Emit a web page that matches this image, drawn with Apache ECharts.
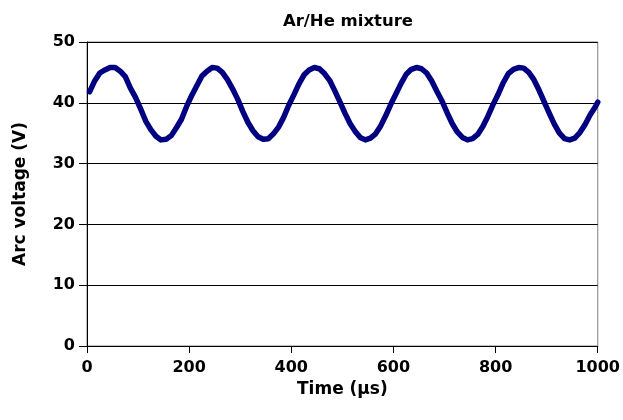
<!DOCTYPE html>
<html>
<head>
<meta charset="utf-8">
<script src="https://cdn.jsdelivr.net/npm/echarts@6/dist/echarts.min.js"></script>
<style>
html,body{margin:0;padding:0;background:#fff;}
#chart{width:623px;height:420px;}
</style>
</head>
<body>
<div id="chart"></div>
<script>
var titleText = 'Ar/He mixture';
var xName = 'Time (\u00b5s)';
var yName = 'Arc voltage (V)';
var xTicks = [0, 200, 400, 600, 800, 1000];
var yTicks = [0, 10, 20, 30, 40, 50];

var times = [
  5, 15, 25, 35, 45, 55, 65, 75, 85, 95, 105, 115, 125, 135, 145, 155, 165, 175, 185, 195,
  205, 215, 225, 235, 245, 255, 265, 275, 285, 295, 305, 315, 325, 335, 345, 355, 365, 375, 385, 395,
  405, 415, 425, 435, 445, 455, 465, 475, 485, 495, 505, 515, 525, 535, 545, 555, 565, 575, 585, 595,
  605, 615, 625, 635, 645, 655, 665, 675, 685, 695, 705, 715, 725, 735, 745, 755, 765, 775, 785, 795,
  805, 815, 825, 835, 845, 855, 865, 875, 885, 895, 905, 915, 925, 935, 945, 955, 965, 975, 985, 995,
  1000
];
var voltage = [
  41.8, 43.6, 44.9, 45.4, 45.8, 45.8, 45.2, 44.3, 42.4, 40.9, 39.0, 37.0, 35.6, 34.5, 33.9, 34.0, 34.6, 35.9, 37.3, 39.4,
  41.2, 42.8, 44.4, 45.2, 45.8, 45.7, 45.0, 43.8, 42.3, 40.6, 38.6, 36.8, 35.4, 34.4, 34.0, 34.1, 34.9, 36.0, 37.6, 39.6,
  41.3, 43.1, 44.6, 45.4, 45.8, 45.6, 44.8, 43.7, 42.0, 40.2, 38.3, 36.6, 35.3, 34.3, 33.9, 34.2, 34.9, 36.2, 37.9, 39.8,
  41.5, 43.2, 44.7, 45.5, 45.8, 45.6, 44.9, 43.6, 41.9, 40.3, 38.4, 36.6, 35.2, 34.3, 33.9, 34.1, 34.8, 36.1, 37.8, 39.7,
  41.4, 43.3, 44.8, 45.5, 45.8, 45.7, 45.0, 43.8, 42.1, 40.2, 38.3, 36.5, 35.0, 34.1, 33.9, 34.2, 35.1, 36.4, 38.0, 39.3,
  40.1
];

var data = times.map(function (t, i) { return [t, voltage[i]]; });
var FONT = '"DejaVu Sans", "Liberation Sans", Arial, sans-serif';

var chart = echarts.init(document.getElementById('chart'), null, {renderer: 'canvas'});
chart.setOption({
  animation: false,
  backgroundColor: '#ffffff',
  title: {
    text: titleText,
    left: 343,
    top: 8,
    textAlign: 'center',
    textStyle: {fontFamily: FONT, fontWeight: 'bold', fontSize: 16.5, color: '#000'}
  },
  grid: {
    left: 87, right: 24, top: 42, bottom: 74,
    show: true, borderColor: '#808080', borderWidth: 1, backgroundColor: 'transparent'
  },
  xAxis: {
    type: 'value',
    min: xTicks[0], max: xTicks[xTicks.length - 1], interval: 200,
    name: xName, nameLocation: 'middle', nameGap: 27,
    nameTextStyle: {fontFamily: FONT, fontWeight: 'bold', fontSize: 17, color: '#000'},
    axisLine: {show: true, lineStyle: {color: '#000', width: 1}},
    axisTick: {show: true, inside: false, length: 7, lineStyle: {color: '#000', width: 1}},
    axisLabel: {fontFamily: FONT, fontWeight: 'bold', fontSize: 16, color: '#000', margin: 14,
      formatter: function (v) { return String(v); }},
    splitLine: {show: false}
  },
  yAxis: {
    type: 'value',
    min: yTicks[0], max: yTicks[yTicks.length - 1], interval: 10,
    name: yName, nameLocation: 'middle', nameGap: 58,
    nameTextStyle: {fontFamily: FONT, fontWeight: 'bold', fontSize: 17, color: '#000'},
    axisLine: {show: true, lineStyle: {color: '#000', width: 1}},
    axisTick: {show: true, inside: false, length: 8, lineStyle: {color: '#000', width: 1}},
    axisLabel: {fontFamily: FONT, fontWeight: 'bold', fontSize: 16, color: '#000', margin: 12,
      formatter: function (v) { return String(v); }},
    splitLine: {show: true, lineStyle: {color: '#000', width: 1}}
  },
  series: [{
    type: 'line',
    data: data,
    showSymbol: false,
    smooth: false,
    lineStyle: {color: '#000080', width: 5.5, join: 'round', cap: 'round'},
    itemStyle: {color: '#000080'}
  }]
});
</script>
</body>
</html>
